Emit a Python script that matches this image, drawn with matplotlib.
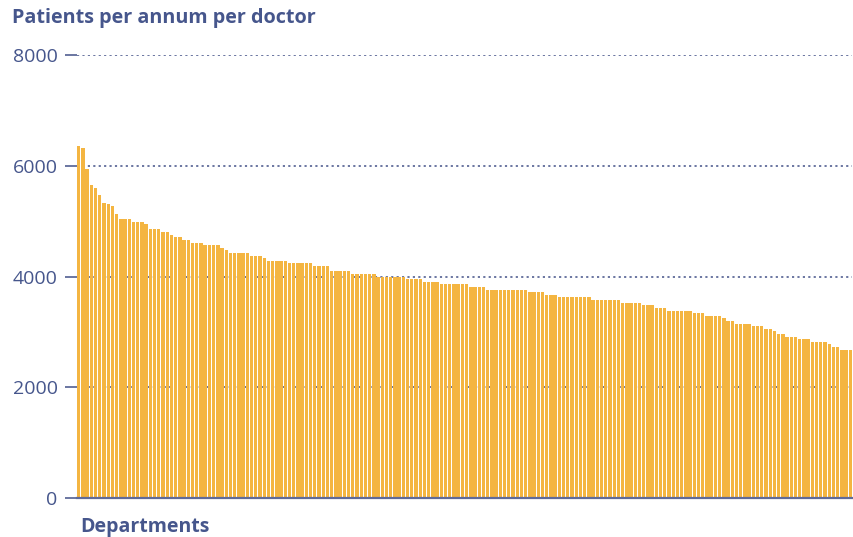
import matplotlib.pyplot as plt
import numpy as np

plt.rcParams['font.family'] = ['Open Sans', 'DejaVu Sans']

# Patients per annum per doctor, departments sorted high to low
values = [
    6357, 6321, 5942, 5653, 5599, 5472, 5330, 5310, 5274, 5129,
    5039, 5039, 5039, 4985, 4985, 4985, 4948, 4858, 4858, 4858,
    4804, 4804, 4750, 4714, 4714, 4660, 4660, 4605, 4605, 4605,
    4569, 4569, 4569, 4569, 4515, 4479, 4425, 4425, 4425, 4425,
    4425, 4371, 4371, 4371, 4334, 4280,
    4280, 4280, 4280, 4280, 4244, 4244, 4244, 4244, 4244, 4244,
    4190, 4190, 4190, 4190, 4100, 4100, 4100, 4100, 4100, 4045,
    4045, 4045, 4045, 4045, 4045, 3991, 3991, 3991, 3991, 3991,
    3991, 3991, 3955, 3955, 3955, 3955, 3901, 3901, 3901, 3901,
    3865, 3865, 3865, 3865,
    3865, 3865, 3865, 3811, 3811, 3811, 3811, 3756, 3756, 3756,
    3756, 3756, 3756, 3756, 3756, 3756, 3756, 3720, 3720, 3720,
    3720, 3666, 3666, 3666, 3630, 3630, 3630, 3630, 3630, 3630,
    3630, 3630, 3576, 3576, 3576, 3576, 3576, 3576, 3576, 3522,
    3522, 3522, 3522, 3522, 3486, 3486,
    3486, 3431, 3431, 3431, 3377, 3377, 3377, 3377, 3377, 3377,
    3341, 3341, 3341, 3287, 3287, 3287, 3287, 3251, 3197, 3197,
    3142, 3142, 3142, 3142, 3106, 3106, 3106, 3052, 3052, 3016,
    2962, 2962, 2908, 2908, 2908, 2872, 2872, 2872, 2817, 2817,
    2817, 2817, 2781, 2727, 2727, 2673, 2673, 2673,
]
yticks = [0, 2000, 4000, 6000, 8000]

bar_color = '#F4B541'
text_color = '#46568C'
line_color = '#5F6B9A'

fig = plt.figure(figsize=(8.54, 5.37), dpi=100)
ax = fig.add_axes([77 / 854, 39 / 537, 775 / 854, 443 / 537])

x = np.arange(len(values))
w = 0.8
ax.bar(x, values, width=w, color=bar_color, linewidth=0, zorder=2)

ax.set_xlim(-w / 2, len(values) - 1 + w / 2)
ax.set_ylim(0, 8000)
ax.set_yticks(yticks)
ax.set_yticklabels([str(t) for t in yticks])
ax.set_xticks([])

for t in yticks[1:]:
    ax.axhline(t, color=line_color, linewidth=1.3, linestyle=(0, (1.2, 1.8)), zorder=1)

for s in ['top', 'right', 'left']:
    ax.spines[s].set_visible(False)
ax.spines['bottom'].set_color(line_color)
ax.spines['bottom'].set_linewidth(1.6)
ax.spines['bottom'].set_zorder(3)

ax.tick_params(axis='y', direction='out', length=9, width=1.3, color=line_color,
               labelcolor=text_color, labelsize=14, pad=5)

fig.text(12 / 854, 1 - 18 / 537, 'Patients per annum per doctor', color=text_color,
         fontsize=14.2, fontweight='bold', ha='left', va='center')
fig.text(80 / 854, 1 - 527 / 537, 'Departments', color=text_color,
         fontsize=14, fontweight='bold', ha='left', va='center')

fig.savefig('out.png', dpi=100)
